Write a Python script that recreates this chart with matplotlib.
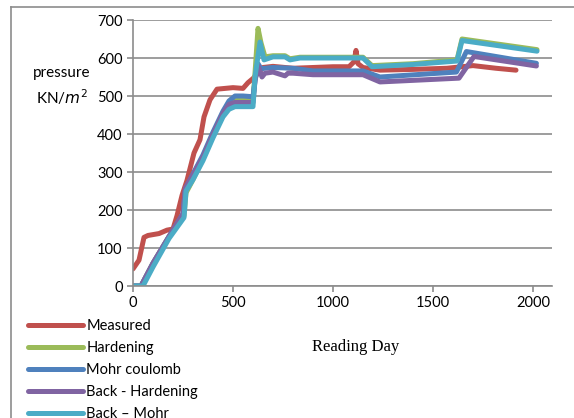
import matplotlib
matplotlib.use("Agg")
import matplotlib.pyplot as plt
from matplotlib.lines import Line2D

# ---- data ----
measured_x = [0, 30, 55, 75, 130, 170, 200, 220, 245, 270, 305, 335, 355, 385, 420, 500, 550, 575,
              600, 625, 650, 700, 800, 900, 1000, 1080, 1105, 1115, 1125, 1150, 1235, 1400, 1570,
              1700, 1815, 1915]
measured_y = [45, 68, 128, 133, 138, 147, 150, 185, 238, 278, 350, 385, 445, 490, 518, 522, 520, 535,
              546, 560, 575, 578, 573, 575, 577, 577, 590, 620, 585, 575, 568, 570, 573,
              580, 573, 568]

hard_x = [0, 40, 100, 180, 255, 265, 300, 350, 400, 450, 480, 500, 550, 600, 610, 625, 640, 660,
          700, 760, 785, 835, 1000, 1150, 1195, 1400, 1620, 1645, 2020]
hard_y = [0, 0, 60, 130, 185, 245, 280, 335, 395, 455, 480, 487, 490, 490, 560, 678, 640, 603,
          606, 606, 598, 602, 602, 602, 580, 585, 595, 650, 622]

mohr_x = [0, 40, 100, 180, 250, 262, 300, 350, 400, 450, 480, 510, 550, 600, 610, 625, 640, 700,
          800, 900, 1150, 1235, 1617, 1667, 2017]
mohr_y = [0, 0, 60, 130, 190, 255, 295, 345, 405, 460, 487, 500, 500, 498, 540, 585, 572, 575,
          573, 566, 566, 550, 563, 617, 586]

back_hard_x = [0, 40, 100, 180, 250, 262, 300, 350, 400, 450, 480, 510, 550, 600, 610, 625, 645,
               660, 700, 760, 775, 800, 900, 1150, 1235, 1630, 1705, 2017]
back_hard_y = [0, 0, 60, 130, 190, 258, 293, 340, 400, 455, 478, 483, 483, 483, 540, 580, 550,
               560, 563, 553, 560, 560, 556, 556, 537, 547, 604, 579]

back_mohr_x = [0, 50, 100, 180, 255, 265, 300, 350, 400, 450, 480, 510, 550, 600, 610, 635, 655,
               700, 760, 785, 835, 1000, 1150, 1195, 1400, 1620, 1645, 2020]
back_mohr_y = [0, 0, 50, 125, 180, 250, 280, 330, 390, 445, 465, 472, 472, 472, 550, 642, 595,
               603, 603, 595, 600, 600, 600, 577, 583, 592, 646, 618]

labels = ["Measured", "Hardening", "Mohr coulomb", "Back - Hardening", "Back \u2013 Mohr"]
colors = ["#C0504D", "#9BBB59", "#4F81BD", "#8064A2", "#4BACC6"]

plt.rcParams['font.family'] = ['Lato', 'DejaVu Sans']
grey = "#8c8c8c"

fig = plt.figure(figsize=(5.74, 4.18), dpi=100)
ax = fig.add_axes([133 / 574, 1 - 286 / 418, (552 - 133) / 574, (286 - 20) / 418])

series = [(measured_x, measured_y), (hard_x, hard_y), (mohr_x, mohr_y),
          (back_hard_x, back_hard_y), (back_mohr_x, back_mohr_y)]
for (xs, ys), lab, c in zip(series, labels, colors):
    ax.plot(xs, ys, color=c, lw=3.6, label=lab, solid_capstyle='round', solid_joinstyle='round')

ax.set_xlim(0, 2095)
ax.set_ylim(0, 700)
ax.set_xticks([0, 500, 1000, 1500, 2000])
ax.set_yticks(range(0, 701, 100))
ax.yaxis.grid(True, color=grey, lw=1.2)
ax.set_axisbelow(True)
for s in ["top", "right"]:
    ax.spines[s].set_visible(False)
for s in ["left", "bottom"]:
    ax.spines[s].set_color(grey)
    ax.spines[s].set_linewidth(1.2)
ax.tick_params(axis='both', colors=grey, labelcolor='black', labelsize=10.5, length=4, width=1.2)
ax.tick_params(axis='x', pad=3)

# y label as two lines of free text
fig.text(62 / 574, 1 - 73 / 418, "pressure", ha='center', va='center', fontsize=11)
fig.text(62 / 574, 1 - 97 / 418, r"KN/$m^2$", ha='center', va='center', fontsize=11)

fig.text(356 / 574, 1 - 347 / 418, "Reading Day", ha='center', va='center', fontsize=12,
         family='Liberation Serif')

# outer chart border (top and left edges visible)
fig.add_artist(Line2D([11 / 574, 11 / 574], [0, 1 - 7 / 418], transform=fig.transFigure,
                      color=grey, lw=1.2))
fig.add_artist(Line2D([11 / 574, 1], [1 - 7 / 418, 1 - 7 / 418], transform=fig.transFigure,
                      color=grey, lw=1.2))

fig.legend(loc='upper left', bbox_to_anchor=(28 / 574, 1 - 319 / 418), frameon=False,
           fontsize=10.5, handlelength=3.8, handletextpad=0.2, labelspacing=0.55,
           borderaxespad=0, borderpad=0)

fig.savefig("out.png", dpi=100)
